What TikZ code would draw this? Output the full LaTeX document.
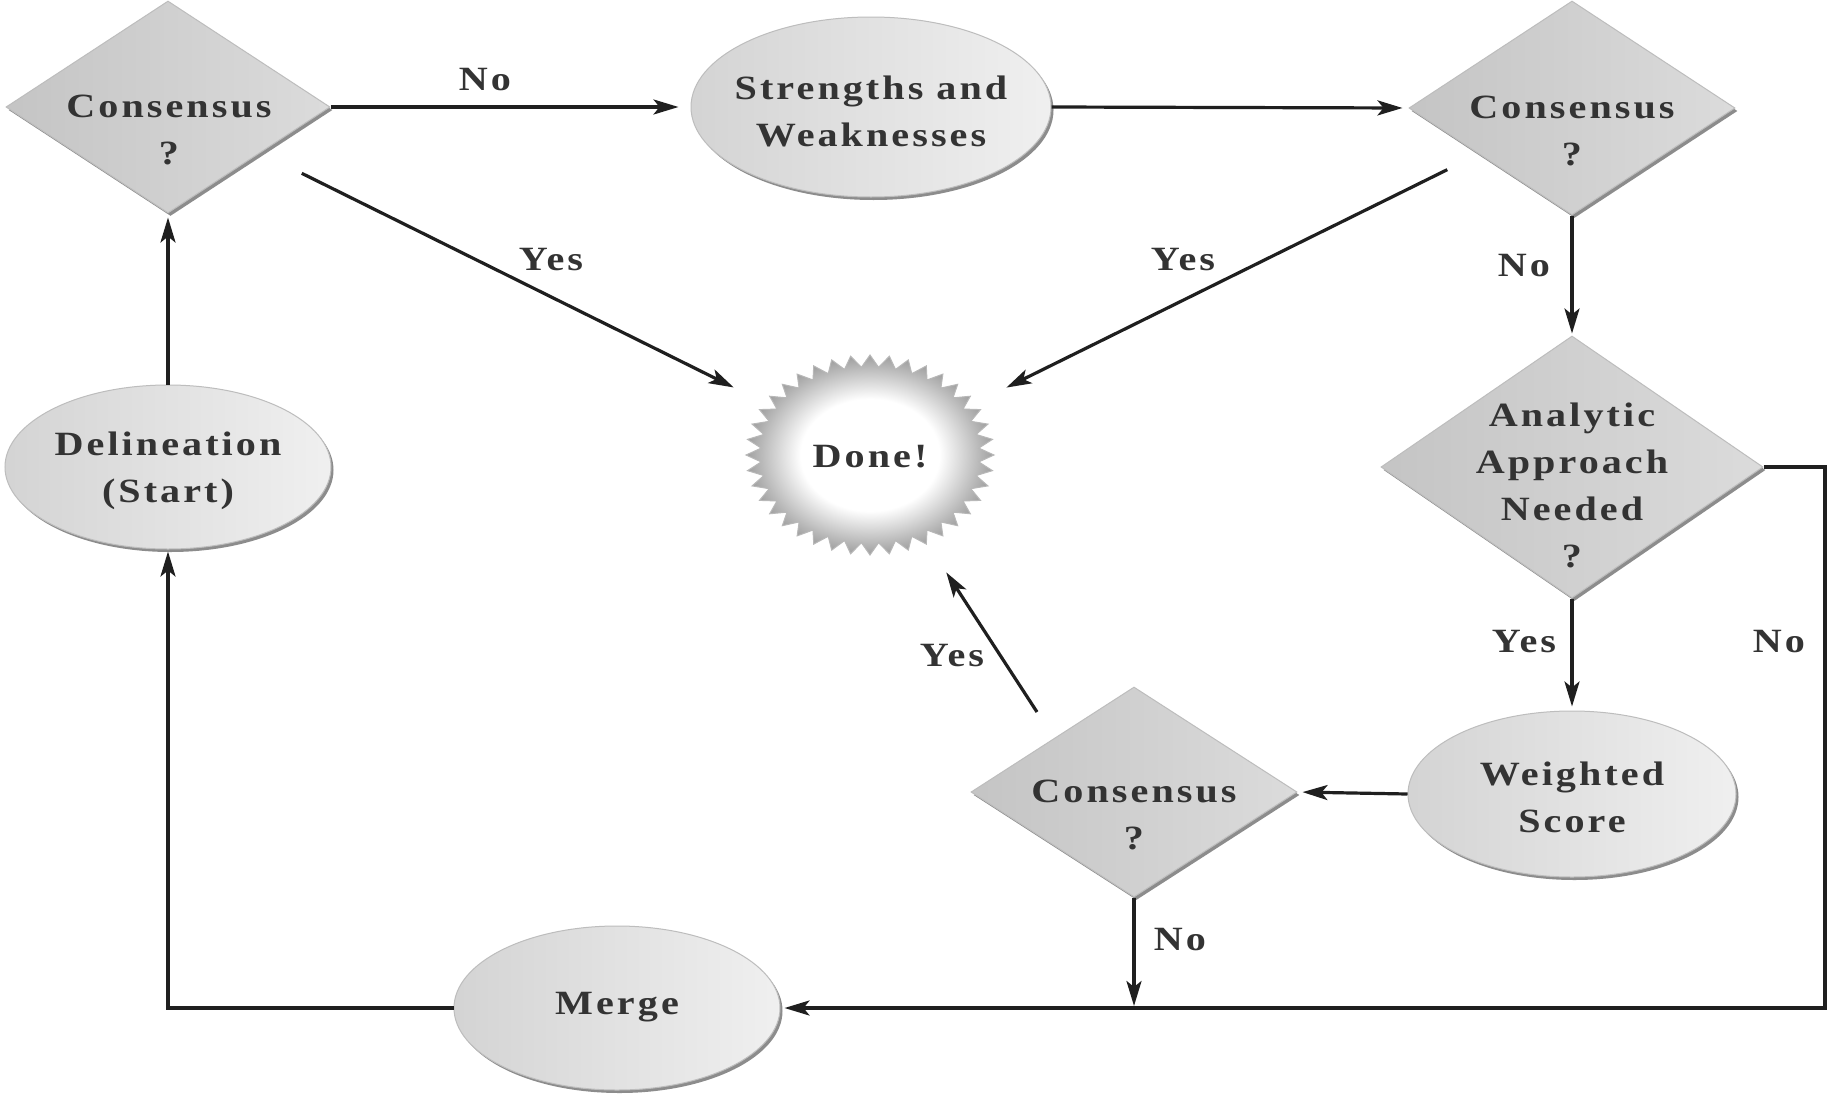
\documentclass[tikz,border=0pt]{standalone}
\usepackage{fontspec}
\newfontfamily\labfont[FakeStretch=1.18, LetterSpace=9]{Liberation Serif}
\usetikzlibrary{shapes.geometric,shadows,arrows.meta}
\pgfdeclareradialshading{burstshade}{\pgfpoint{0bp}{0bp}}{color(0bp)=(white); color(14bp)=(white); color(25bp)=(black!38); color(50bp)=(black!38)}
\begin{document}
\begin{tikzpicture}[x=1pt,y=-1pt,
  dia/.style={diamond, draw=black!26, line width=1pt, left color=black!23, right color=black!14, inner sep=0pt,
    drop shadow={shadow xshift=2.5pt, shadow yshift=-3pt, fill=black!50, opacity=0.9}},
  ell/.style={ellipse, draw=black!26, line width=1pt, left color=black!17, right color=black!6, inner sep=0pt,
    drop shadow={shadow xshift=2.5pt, shadow yshift=-3pt, fill=black!50, opacity=0.9}},
  txt/.style={font=\labfont\bfseries\fontsize{34}{47}\selectfont, text=black!80, align=center, inner sep=0pt},
  flow/.style={line width=3.2pt, draw=black!88, -{Stealth[length=25pt,width=15pt,inset=6pt]}},
]
\useasboundingbox[fill=white] (0,0) rectangle (1831,1095);

% ---- shapes ----
\node[dia, minimum width=324pt, minimum height=212pt] (D1) at (168,107) {};
\node[ell, minimum width=360pt, minimum height=180pt] (SW) at (871,107) {};
\node[dia, minimum width=326pt, minimum height=214pt] (D2) at (1572,108) {};
\node[dia, minimum width=382pt, minimum height=262pt] (D3) at (1572,467) {};
\node[ell, minimum width=328pt, minimum height=166pt] (WS) at (1572,794) {};
\node[dia, minimum width=326pt, minimum height=210pt] (D4) at (1134,792) {};
\node[ell, minimum width=326pt, minimum height=164pt] (ME) at (617,1008) {};
\node[ell, minimum width=326pt, minimum height=164pt] (DL) at (168,467) {};

% ---- Done! starburst ----
\path[shading=burstshade, draw=black!28, line width=1pt]
  (994,455) \foreach \i [evaluate=\i as \r using {mod(\i,2)==0 ? 1 : 0.88}] in {1,...,79}
  { -- ({870+124*\r*cos(\i*4.5)},{455+100*\r*sin(\i*4.5)}) } -- cycle;
\node[ellipse, minimum width=248pt, minimum height=200pt, inner sep=0pt] (DN) at (870,455) {};

% ---- texts ----
\node[txt] (D1t) at (169,130) {Consensus\\?};
\node[txt] (SWt) at (871,111) {Strengths and\\Weaknesses};
\node[txt] (D2t) at (1572,131) {Consensus\\?};
\node[txt] (D3t) at (1572,485) {Analytic\\Approach\\Needed\\?};
\node[txt] (WSt) at (1572,797) {Weighted\\Score};
\node[txt] (D4t) at (1134,815) {Consensus\\?};
\node[txt] (MEt) at (617,1007) {Merge};
\node[txt] (DLt) at (168,471) {Delineation\\(Start)};
\node[txt] (DNt) at (870,457) {Done!};

% ---- connectors ----
\draw[flow, shorten >=12pt] (D1.east) -- (SW.west);
\draw[flow, shorten >=6pt] (SW.east) -- (D2.west);
\draw[flow, shorten <=46pt, shorten >=34pt] (D1) -- (DN);
\draw[flow, shorten <=35pt, shorten >=34pt] (D2) -- (DN);
\draw[flow, shorten >=2pt] (D2.south) -- (D3.north);
\draw[flow, shorten >=4pt] (D3.south) -- (WS.north);
\draw[flow, shorten >=5pt] (WS.west) -- (D4.east);
\coordinate (d4out) at (1037,712);
\draw[flow, shorten >=140pt] (d4out) -- (DN.center);
\coordinate (d4join) at (1134,1008);
\draw[flow, shorten >=2pt] (D4.south) -- (d4join);
\coordinate (rt) at (1825,467);
\draw[flow, shorten >=4pt] (D3.east) -- (rt) |- (ME.east);
\draw[flow, shorten >=2pt] (ME.west) -| (DL.south);
\draw[flow, shorten >=4pt] (DL.north) -- (D1.south);

% ---- labels ----
\node[txt] (l1) at (485,80) {No};
\node[txt] (l2) at (551,260) {Yes};
\node[txt] (l3) at (1183,260) {Yes};
\node[txt] (l4) at (1524,266) {No};
\node[txt] (l5) at (1524,642) {Yes};
\node[txt] (l6) at (1779,642) {No};
\node[txt] (l7) at (952,656) {Yes};
\node[txt] (l8) at (1180,940) {No};
\end{tikzpicture}
\end{document}
